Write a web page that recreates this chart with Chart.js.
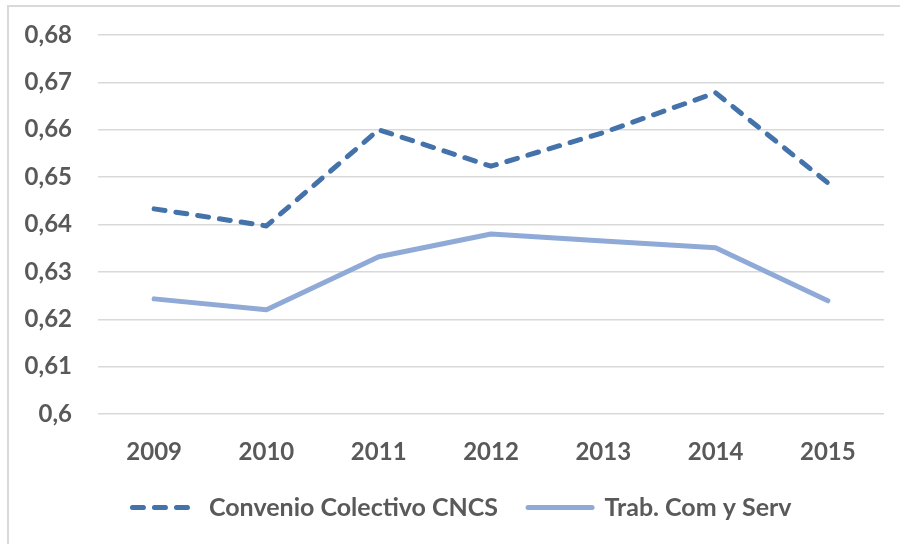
<!DOCTYPE html>
<html>
<head>
<meta charset="utf-8">
<script src="https://cdn.jsdelivr.net/npm/chart.js@4"></script>
<style>
  html, body { margin: 0; padding: 0; background: #ffffff; overflow: hidden; }
  #wrap { position: relative; width: 900px; height: 544px; }
  #frame {
    position: absolute; left: 7px; top: 5px; width: 1000px; height: 1000px;
    border-left: 2px solid #D9D9D9; border-top: 2px solid #D9D9D9;
  }
  #chart { position: absolute; left: 0; top: 0; }
</style>
</head>
<body>
<div id="wrap">
  <div id="frame"></div>
  <canvas id="chart" width="900" height="544"></canvas>
</div>
<script>
// Data
const years = ['2009', '2010', '2011', '2012', '2013', '2014', '2015'];
const convenioCNCS = [0.6433, 0.6397, 0.6600, 0.6523, 0.6594, 0.6678, 0.6488];
const trabComServ = [0.6243, 0.6220, 0.6332, 0.6380, 0.6365, 0.6351, 0.6239];
const seriesNames = ['Convenio Colectivo CNCS', 'Trab. Com y Serv'];

const textColor = '#595959';
const fontFamily = 'Lato, "Open Sans", sans-serif';

// Format ticks with comma decimal (0,68 / 0,6)
function fmtComma(v) {
  return String(Number(v.toFixed(2))).replace('.', ',');
}

// Legend sits a bit right of center in the original
const legendShift = {
  id: 'legendShift',
  afterLayout(chart) {
    if (chart.legend) {
      chart.legend.left += 20;
      chart.legend.right += 20;
    }
  }
};

new Chart(document.getElementById('chart'), {
  type: 'line',
  plugins: [legendShift],
  data: {
    labels: years,
    datasets: [
      {
        label: seriesNames[0],
        data: convenioCNCS,
        borderColor: '#4472AA',
        backgroundColor: '#4472AA',
        borderWidth: 5,
        borderDash: [11, 11],
        borderCapStyle: 'round',
        borderJoinStyle: 'round',
        pointRadius: 0,
        tension: 0
      },
      {
        label: seriesNames[1],
        data: trabComServ,
        borderColor: '#8FAAD6',
        backgroundColor: '#8FAAD6',
        borderWidth: 5,
        borderCapStyle: 'round',
        borderJoinStyle: 'round',
        pointRadius: 0,
        tension: 0
      }
    ]
  },
  options: {
    responsive: false,
    animation: false,
    layout: {
      padding: { left: 0, right: 16, top: 35, bottom: 14 }
    },
    plugins: {
      tooltip: { enabled: false },
      legend: {
        display: true,
        position: 'bottom',
        labels: {
          color: textColor,
          font: { family: fontFamily, size: 25, weight: 'bold' },
          usePointStyle: true,
          pointStyle: 'line',
          pointStyleWidth: 64,
          padding: 30,
          // keep the dash pattern of each line in the legend sample
          generateLabels: function (chart) {
            return chart.data.datasets.map((ds, i) => ({
              text: ds.label,
              datasetIndex: i,
              fillStyle: ds.borderColor,
              strokeStyle: ds.borderColor,
              fontColor: textColor,
              lineWidth: ds.borderWidth,
              lineDash: ds.borderDash || [],
              lineCap: 'round',
              pointStyle: 'line',
              hidden: false
            }));
          }
        }
      }
    },
    scales: {
      x: {
        offset: true,
        grid: { display: false, drawTicks: false },
        border: { display: false },
        ticks: {
          color: textColor,
          font: { family: fontFamily, size: 24, weight: 'bold' },
          padding: 24,
          maxRotation: 0
        },
        afterFit: function (scale) {
          scale.height = 51;
        }
      },
      y: {
        min: 0.6,
        max: 0.68,
        grid: { color: '#D9D9D9', lineWidth: 1.5, drawTicks: false },
        border: { display: false },
        ticks: {
          stepSize: 0.01,
          color: textColor,
          font: { family: fontFamily, size: 24, weight: 'bold' },
          padding: 26,
          callback: function (value) {
            return fmtComma(value);
          }
        },
        afterFit: function (scale) {
          scale.width = 98;
          // tick padding otherwise pushes the plot top down
          scale.paddingTop = 0;
          scale.paddingBottom = 0;
        }
      }
    }
  }
});
</script>
</body>
</html>
